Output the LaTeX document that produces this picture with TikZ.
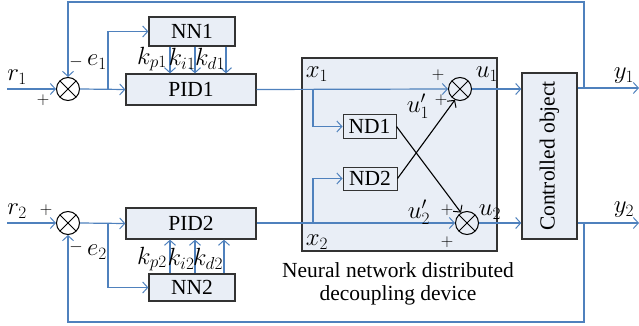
\documentclass[tikz,border=0pt]{standalone}
\usepackage{fontspec}
\setmainfont{Liberation Serif}
\usetikzlibrary{arrows.meta}
\definecolor{lblue}{RGB}{79,129,189}
\definecolor{bfill}{RGB}{233,238,246}
\tikzset{
  blk/.style={draw=black!80, line width=1.3pt, fill=bfill, inner sep=0pt, font=\fontsize{21.5}{25}\selectfont},
  smallblk/.style={draw=black!80, line width=1pt, fill=bfill, inner sep=0pt, font=\fontsize{21.5}{25}\selectfont},
  summer/.style={circle, draw=black, line width=1pt, minimum size=23pt, inner sep=0pt,
    path picture={\draw[black, line width=1pt] (path picture bounding box.south west)--(path picture bounding box.north east) (path picture bounding box.north west)--(path picture bounding box.south east);}},
  bl/.style={draw=lblue, line width=1.2pt},
  bla/.style={bl, -{Straight Barb[length=5pt,width=11pt,line width=1pt]}},
  blka/.style={draw=black, line width=1.1pt, -{Straight Barb[length=5pt,width=11pt,line width=1pt]}},
  lab/.style={inner sep=0pt, font=\fontsize{23}{27}\selectfont},
  captxt/.style={inner sep=0pt, font=\fontsize{21.5}{23}\selectfont},
  sgn/.style={inner sep=0pt, font=\fontsize{18}{20}\selectfont},
}
\begin{document}
\begin{tikzpicture}[x=1pt,y=-1pt]
\useasboundingbox (0,0) rectangle (639,326);
% big box
\node[draw=black!80, line width=1.3pt, fill=bfill, minimum width=195pt, minimum height=193pt, inner sep=0pt] (ndd) at (399.5,154.5) {};
\node[captxt, align=center] (capt) at (398,284) {Neural network distributed\\decoupling device};
% blocks
\node[blk, minimum width=86pt, minimum height=29pt] (nn1) at (192,31.5) {NN1};
\node[blk, minimum width=130pt, minimum height=31pt] (pid1) at (191,89.5) {PID1};
\node[blk, minimum width=130pt, minimum height=31pt] (pid2) at (191,223.5) {PID2};
\node[blk, minimum width=86pt, minimum height=27pt] (nn2) at (192,287.5) {NN2};
\node[smallblk, minimum width=53pt, minimum height=23pt] (nd1) at (369.5,126.5) {ND1};
\node[smallblk, minimum width=54pt, minimum height=23pt] (nd2) at (370,178.5) {ND2};
\node[blk, minimum width=55pt, minimum height=166pt] (co) at (549.5,156) {};
\node[captxt, rotate=90] (cot) at (co.center) {Controlled object};
% summers
\node[summer] (s1) at (68,89) {};
\node[summer] (s2) at (68,223) {};
\node[summer] (su1) at (460,89) {};
\node[summer] (su2) at (467,223) {};
% coordinates
\coordinate (r1in) at (7,89);
\coordinate (r2in) at (7,223);
\coordinate (b1) at (108,89);
\coordinate (b2) at (108,223);
\coordinate (x1b) at (313,89);
\coordinate (x2b) at (313,223);
\coordinate (j1) at (584,88);
\coordinate (j2) at (584,223);
\coordinate (y1out) at (639,88);
\coordinate (y2out) at (639,223);
% loop 1
\draw[bla] (r1in) -- (s1.west);
\draw[bla] (s1.east) -- (pid1.west);
\draw[bla] (b1) |- (nn1.west);
\foreach \xx in {170,195,226}{\draw[bla] (nn1.south -| \xx,0) -- (pid1.north -| \xx,0);}
\draw[bla] (pid1.east) -- (su1.west);
\draw[bla] (x1b) |- (nd1.west);
\draw[bla] (su1.east) -- (co.west |- su1.east);
\draw[bla] (co.east |- j1) -- (y1out);
\draw[bla] (j1) -- (584,2) -- (68,2) -- (s1.north);
% loop 2
\draw[bla] (r2in) -- (s2.west);
\draw[bla] (s2.east) -- (pid2.west);
\draw[bla] (b2) |- (nn2.west);
\foreach \xx in {170,195,224}{\draw[bla] (nn2.north -| \xx,0) -- (pid2.south -| \xx,0);}
\draw[bla] (pid2.east |- su2.west) -- (su2.west);
\draw[bla] (x2b) |- (nd2.west);
\draw[bla] (su2.east) -- (co.west |- su2.east);
\draw[bla] (co.east |- j2) -- (y2out);
\draw[bla] (j2) -- (584,322) -- (68,322) -- (s2.south);
% cross couplings
\draw[blka] (nd1.east) -- (su2.120);
\draw[blka] (nd2.east) -- (su1.245);
% labels
\node[lab] (lr1) at (17,77) {$r_1$};
\node[sgn] (p1) at (43,100) {$+$};
\node[sgn] (m1) at (76,62) {$-$};
\node[lab] (le1) at (97,62) {$e_1$};
\node[lab] (lr2) at (17,211) {$r_2$};
\node[sgn] (p2) at (46,210) {$+$};
\node[sgn] (m2) at (76,247) {$-$};
\node[lab] (le2) at (97,252) {$e_2$};
\node[lab] (kp1) at (152,59) {$k_{p1}$};
\node[lab] (ki1) at (182,59) {$k_{i1}$};
\node[lab] (kd1) at (210,59) {$k_{d1}$};
\node[lab] (kp2) at (152,259) {$k_{p2}$};
\node[lab] (ki2) at (181,259) {$k_{i2}$};
\node[lab] (kd2) at (208,259) {$k_{d2}$};
\node[lab] (lx1) at (317,74) {$x_1$};
\node[lab] (lx2) at (317,242) {$x_2$};
\node[sgn] (pu1a) at (438,75) {$+$};
\node[sgn] (pu1b) at (441,100) {$+$};
\node[lab] (lu1p) at (418,106) {$u_1'$};
\node[lab] (lu1) at (487,74) {$u_1$};
\node[lab] (lu2p) at (419,212) {$u_2'$};
\node[sgn] (pu2a) at (447,210) {$+$};
\node[sgn] (pu2b) at (447,242) {$+$};
\node[lab] (lu2) at (490,212) {$u_2$};
\node[lab] (ly1) at (624,76) {$y_1$};
\node[lab] (ly2) at (624,210) {$y_2$};
\end{tikzpicture}
\end{document}
